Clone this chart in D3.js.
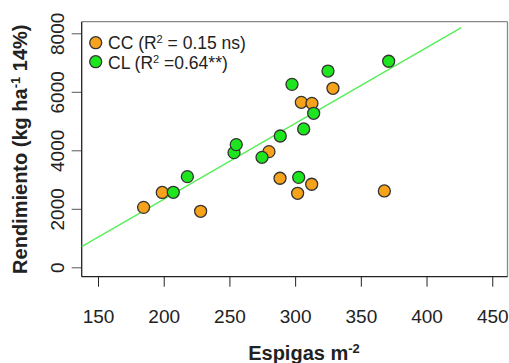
<!DOCTYPE html>
<html>
<head>
<meta charset="utf-8">
<script src="https://cdn.jsdelivr.net/npm/d3@7"></script>
<style>
  body { margin: 0; background: #fff; }
  text { font-family: "Liberation Sans", Arial, sans-serif; fill: #222; }
</style>
</head>
<body>
<div id="chart"></div>
<script>
// espigas m-2 vs rendimiento, two groups
const ccEspigas = [184.7, 198.9, 228.1, 280.1, 288.5, 304.7, 312.8, 301.9, 312.6, 328.8, 367.9]
const ccRend = [2050, 2560, 1915, 3955, 3045, 5640, 5605, 2530, 2840, 6120, 2610]
const clEspigas = [207.3, 218, 253.5, 255.2, 274.8, 288.7, 297.6, 302.7, 306.5, 314.1, 325, 371.2]
const clRend = [2565, 3100, 3920, 4195, 3760, 4490, 6255, 3075, 4730, 5265, 6710, 7045]
const fitX = [137.6, 426.4]
const fitY = [707, 8194]
const xTicks = [150, 200, 250, 300, 350, 400, 450]
const yTicks = [0, 2000, 4000, 6000, 8000]

const W = 509
const H = 363
const margin = { top: 21.7, right: 1.5, bottom: 86.3, left: 81.7 }
const width = W - margin.left - margin.right
const height = H - margin.top - margin.bottom

const svg = d3.select('#chart').append('svg')
  .attr('width', W)
  .attr('height', H)

const g = svg.append('g')
  .attr('transform', 'translate(' + margin.left + ',' + margin.top + ')')

const x = d3.scaleLinear().domain([137.6, 461.6]).range([0, width])
const y = d3.scaleLinear().domain([-321, 8397]).range([height, 0])

// axes (R style: ticks outside, labels spaced away)
const xAxis = d3.axisBottom(x).tickValues(xTicks).tickSize(10).tickPadding(23)
g.append('g')
  .attr('class', 'x-axis')
  .attr('transform', 'translate(0,' + height + ')')
  .call(xAxis)
  .call(s => s.select('.domain').remove())
  .call(s => s.selectAll('line').attr('stroke', '#222'))
  .call(s => s.selectAll('text').attr('font-size', 19).attr('fill', '#222'))

const yAxis = d3.axisLeft(y).tickValues(yTicks).tickSize(10).tickFormat(d3.format('d'))
g.append('g')
  .attr('class', 'y-axis')
  .call(yAxis)
  .call(s => s.select('.domain').remove())
  .call(s => s.selectAll('line').attr('stroke', '#555'))
  .call(s => s.selectAll('text')
    .attr('font-size', 19)
    .attr('fill', '#222')
    .attr('text-anchor', 'middle')
    .attr('x', 0)
    .attr('dy', 0)
    .attr('transform', 'translate(-18,0) rotate(-90)'))

// box
g.append('line').attr('x1', 0).attr('x2', width).attr('y1', 0).attr('y2', 0)
  .attr('stroke', '#888').attr('stroke-width', 1.3)
g.append('line').attr('x1', width).attr('x2', width).attr('y1', 0).attr('y2', height)
  .attr('stroke', '#888').attr('stroke-width', 1.3)
g.append('line').attr('x1', 0).attr('x2', 0).attr('y1', 0).attr('y2', height)
  .attr('stroke', '#222').attr('stroke-width', 1.3)
g.append('line').attr('x1', 0).attr('x2', width).attr('y1', height).attr('y2', height)
  .attr('stroke', '#222').attr('stroke-width', 1.3)

// fitted line
g.append('line')
  .attr('x1', x(fitX[0])).attr('y1', y(fitY[0]))
  .attr('x2', x(fitX[1])).attr('y2', y(fitY[1]))
  .attr('stroke', '#55ee55')
  .attr('stroke-width', 1.3)

const cc = ccEspigas.map((d, i) => ({ x: d, y: ccRend[i] }))
const cl = clEspigas.map((d, i) => ({ x: d, y: clRend[i] }))

g.selectAll('.cc').data(cc).enter().append('circle')
  .attr('class', 'cc')
  .attr('cx', d => x(d.x))
  .attr('cy', d => y(d.y))
  .attr('r', 6)
  .attr('fill', '#f7a21b')
  .attr('stroke', '#333')
  .attr('stroke-width', 1.3)

g.selectAll('.cl').data(cl).enter().append('circle')
  .attr('class', 'cl')
  .attr('cx', d => x(d.x))
  .attr('cy', d => y(d.y))
  .attr('r', 6)
  .attr('fill', '#1ee61e')
  .attr('stroke', '#333')
  .attr('stroke-width', 1.3)

// legend
const legend = [
  { color: '#f7a21b', pre: 'CC (R', post: ' = 0.15 ns)' },
  { color: '#1ee61e', pre: 'CL (R', post: ' =0.64**)' }
]
legend.forEach((d, i) => {
  svg.append('circle')
    .attr('cx', 95.7)
    .attr('cy', 42.7 + i * 19)
    .attr('r', 6)
    .attr('fill', d.color)
    .attr('stroke', '#333')
    .attr('stroke-width', 1.3)
  const t = svg.append('text')
    .attr('x', 108)
    .attr('y', 49.3 + i * 19.5)
    .attr('font-size', 17.5)
  t.append('tspan').text(d.pre)
  t.append('tspan').attr('font-size', 11).attr('dy', -6).text('2')
  t.append('tspan').attr('dy', 6).text(d.post)
})

// axis titles (bottom edge trims descenders, as in the original)
const xt = svg.append('text')
  .attr('x', 304)
  .attr('y', 360)
  .attr('text-anchor', 'middle')
  .attr('font-size', 20)
  .attr('font-weight', 700)
xt.append('tspan').text('Espigas m')
xt.append('tspan').attr('font-size', 13).attr('dy', -7).text('-2')

const yt = svg.append('text')
  .attr('transform', 'translate(27,' + (margin.top + height / 2) + ') rotate(-90)')
  .attr('text-anchor', 'middle')
  .attr('font-size', 20)
  .attr('font-weight', 700)
yt.append('tspan').text('Rendimiento (kg ha')
yt.append('tspan').attr('font-size', 13).attr('dy', -7).text('-1')
yt.append('tspan').attr('dy', 7).text(' 14%)')
</script>
</body>
</html>
